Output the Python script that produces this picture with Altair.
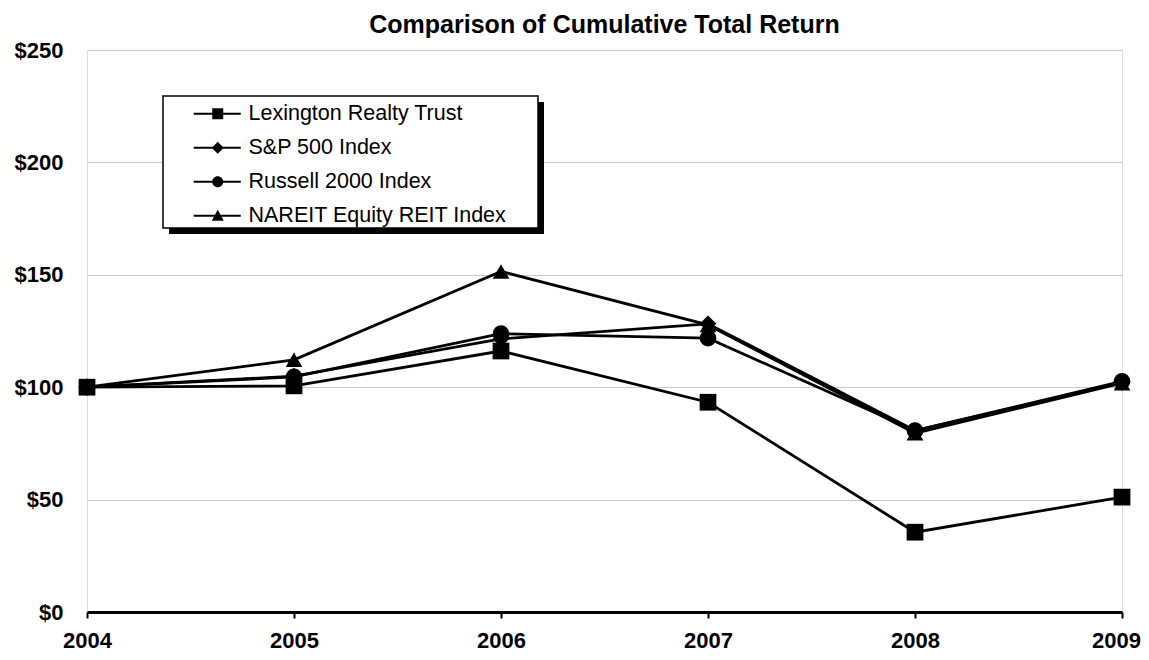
import altair as alt
import pandas as pd

years = [2004, 2005, 2006, 2007, 2008, 2009]
series = ["Lexington Realty Trust", "S&P 500 Index", "Russell 2000 Index", "NAREIT Equity REIT Index"]
lexington = [100.0, 100.6, 116.1, 93.3, 35.5, 51.1]
sp500 = [100.0, 104.9, 121.5, 128.2, 80.7, 102.1]
russell = [100.0, 104.6, 123.8, 121.8, 80.7, 102.6]
nareit = [100.0, 112.2, 151.5, 127.7, 79.5, 101.8]

values = {
    "Lexington Realty Trust": lexington,
    "S&P 500 Index": sp500,
    "Russell 2000 Index": russell,
    "NAREIT Equity REIT Index": nareit,
}
draw_order = ["NAREIT Equity REIT Index", "S&P 500 Index", "Russell 2000 Index", "Lexington Realty Trust"]
rows = []
for s in draw_order:
    for y, v in zip(years, values[s]):
        rows.append({"year": y, "value": v, "series": s})
df = pd.DataFrame(rows)

FONT = "Liberation Sans, Arial, sans-serif"

x = alt.X("year:Q", scale=alt.Scale(domain=[2004, 2009], nice=False, zero=False),
          axis=alt.Axis(values=years, format="d", title=None, grid=False,
                        domainColor="black", domainWidth=3, tickColor="black", tickWidth=2,
                        tickSize=6, labelFontSize=22, labelFontWeight="bold", labelFont=FONT,
                        labelColor="black", labelPadding=12, labelFlush=False,
                        labelOffset={"expr": "datum.value == 2009 ? -6 : 0"}))
y = alt.Y("value:Q", scale=alt.Scale(domain=[0, 250], nice=False),
          axis=alt.Axis(values=[0, 50, 100, 150, 200, 250], format="$.0f", title=None,
                        domain=False, ticks=False, grid=True, gridColor="#c8c8c8", gridWidth=1,
                        labelFontSize=22, labelFontWeight="bold", labelFont=FONT,
                        labelColor="black", labelPadding=24))

lines = alt.Chart(df).mark_line(color="black", strokeWidth=2.8).encode(
    x=x, y=y, detail="series:N", order="year:Q")

points = alt.Chart(df).mark_point(filled=True, size=280, opacity=1, color="black").encode(
    x=x, y=y,
    shape=alt.Shape("series:N", scale=alt.Scale(domain=series,
                    range=["square", "diamond", "circle", "triangle-up"]), legend=None),
)

# legend symbol paths (line + marker), units of 10 px, all drawn clockwise
line_p = "M-1,-0.1H3.7V0.1H-1Z"
legend_paths = [
    line_p + "M0.85,-0.55H1.95V0.55H0.85Z",
    line_p + "M1.4,-0.6L2.0,0L1.4,0.6L0.8,0Z",
    line_p + "M0.85,0A0.55,0.55 0 1,1 1.95,0A0.55,0.55 0 1,1 0.85,0Z",
    line_p + "M1.4,-0.6L2.0,0.5H0.8Z",
]

legend = alt.Legend(
    title=None, orient="none", legendX=106, legendY=53, padding=0,
    symbolSize=400, labelFontSize=21.5, labelFont=FONT, labelColor="black",
    labelOffset=34, rowPadding=11, labelLimit=400,
    symbolFillColor="black", symbolOpacity=1, symbolStrokeWidth=0,
)

legend_layer = alt.Chart(df).mark_point(filled=True, color="black", opacity=1).encode(
    x=x, y=y,
    shape=alt.Shape("series:N", scale=alt.Scale(domain=series, range=legend_paths), legend=legend),
).transform_filter("false")

one = alt.Data(values=[{"a": 1}])
shadow = alt.Chart(one).mark_rect(color="black").encode(
    x=alt.value(82), x2=alt.value(457), y=alt.value(52), y2=alt.value(184))
box = alt.Chart(one).mark_rect(fill="white", stroke="black", strokeWidth=1.5).encode(
    x=alt.value(76), x2=alt.value(451), y=alt.value(46), y2=alt.value(178))

chart = alt.layer(shadow, box, lines, points, legend_layer).resolve_scale(shape="independent").properties(
    width=1035, height=562,
    title=alt.TitleParams("Comparison of Cumulative Total Return", fontSize=25,
                          fontWeight="bold", font=FONT, color="black", anchor="middle",
                          frame="group", offset=1),
    autosize=alt.AutoSizeParams(type="none"),
    padding={"left": 79, "top": 42, "right": 19, "bottom": 40},
).configure_view(stroke="#8c8c8c", strokeWidth=1.5).configure(background="white")

chart.save("out.html", embed_options={"renderer": "svg", "actions": False})
